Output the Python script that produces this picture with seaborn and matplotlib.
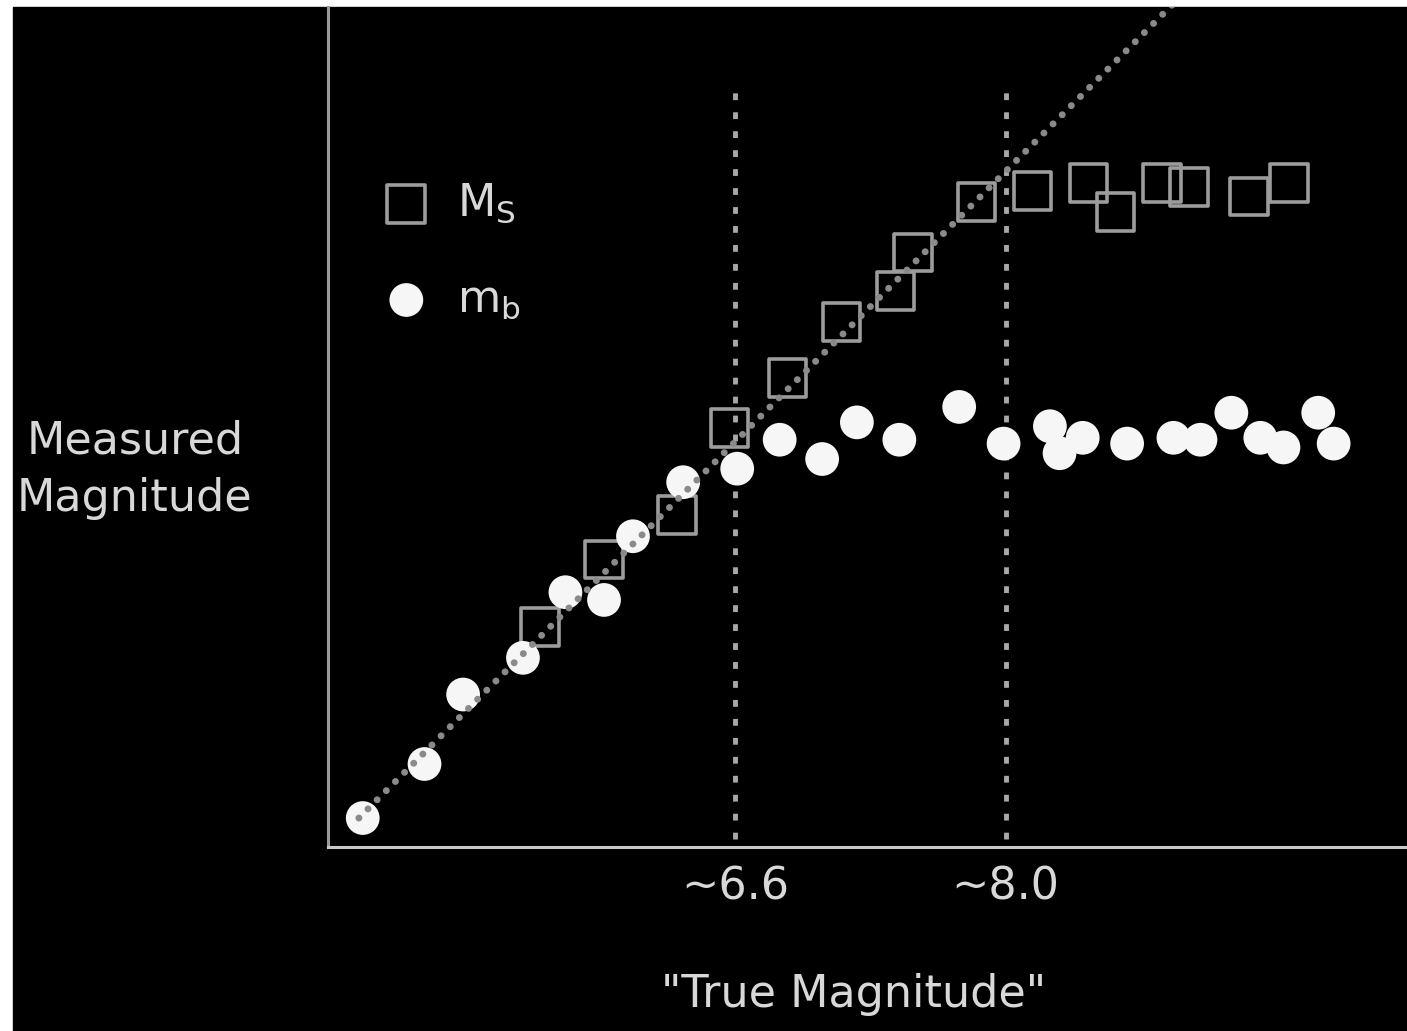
import pandas as pd
import seaborn as sns
import matplotlib.pyplot as plt
from matplotlib.patches import Rectangle

#values ("true" vs measured magnitude)
ms_true = [5.59, 5.92, 6.30, 6.57, 6.87, 7.15, 7.43, 7.52, 7.85, 8.14, 8.43, 8.57, 8.81, 8.95, 9.26, 9.47]
ms_meas = [5.64, 5.99, 6.22, 6.67, 6.93, 7.22, 7.38, 7.58, 7.84, 7.90, 7.94, 7.79, 7.94, 7.92, 7.87, 7.94]

mb_true = [4.67, 4.99, 5.19, 5.50, 5.72, 5.92, 6.07, 6.33, 6.61, 6.83, 7.05, 7.23, 7.45,
           7.76, 7.99, 8.23, 8.28, 8.40, 8.63, 8.87, 9.01, 9.17, 9.32, 9.44, 9.62, 9.70]
mb_meas = [4.65, 4.93, 5.29, 5.48, 5.82, 5.78, 6.11, 6.39, 6.46, 6.61, 6.51, 6.70, 6.61,
           6.78, 6.59, 6.68, 6.54, 6.62, 6.59, 6.62, 6.61, 6.75, 6.62, 6.57, 6.75, 6.59]

saturation = [6.6, 8.0]
saturation_labels = ['~6.6', '~8.0']
saturation_top = [8.46, 8.41]
one_to_one = [4.65, 9.0]

ms = pd.DataFrame({'true': ms_true, 'measured': ms_meas})
mb = pd.DataFrame({'true': mb_true, 'measured': mb_meas})

plt.rcParams['font.family'] = ['DejaVu Sans']
txt = '#d8d8d8'

fig = plt.figure(figsize=(14.07, 10.31), dpi=100)
fig.patch.set_facecolor('white')
fig.add_artist(Rectangle((13 / 1407, 0), 1, 1024 / 1031, transform=fig.transFigure,
                         color='black', zorder=-1))
ax = fig.add_axes([328 / 1407, 184 / 1031, 1079 / 1407, 840 / 1031])
ax.set_facecolor('black')

#the two magnitude scales
sns.scatterplot(data=ms, x='true', y='measured', ax=ax, marker='s', s=740,
                facecolor='none', edgecolor='#9c9c9c', linewidth=2.6,
                label='M$_\\mathregular{S}$', zorder=3)
sns.scatterplot(data=mb, x='true', y='measured', ax=ax, marker='o', s=590,
                color='#f6f6f6', edgecolor='none', linewidth=0,
                label='m$_\\mathregular{b}$', zorder=3)

#1:1 line and saturation levels
sns.lineplot(x=one_to_one, y=one_to_one, ax=ax, color='#8a8a8a', lw=5,
             linestyle=(0, (0.01, 1.85)), dash_capstyle='round', zorder=4)
ax.vlines(saturation, 4.54, saturation_top, colors='#a8a8a8', lw=3.5,
          linestyles=[(0, (1.4, 2.5))], zorder=2)

ax.set_xlim(4.49, 10.08)
ax.set_ylim(4.5, 8.852)
ax.set_xticks(saturation, saturation_labels)
ax.set_yticks([])
ax.tick_params(axis='x', length=0, pad=13, labelsize=32, labelcolor=txt)
for lbl in ax.get_xticklabels():
    lbl.set_x(lbl.get_position()[0])
    lbl.set_ha('center')

for side in ['top', 'right']:
    ax.spines[side].set_visible(False)
ax.spines['left'].set_color('#9a9a9a')
ax.spines['left'].set_linewidth(2.2)
ax.spines['bottom'].set_color('#c8c8c8')
ax.spines['bottom'].set_linewidth(2.2)

ax.set_xlabel('"True Magnitude"', fontsize=32, color=txt)
ax.xaxis.label.set_va('center')
ax.xaxis.set_label_coords(0.4875, -0.176)
ax.set_ylabel('Measured\nMagnitude', rotation=0, fontsize=32, color=txt,
              ha='center', va='center', linespacing=1.45)
ax.yaxis.set_label_coords(-0.179, 0.449)

handles, labels = ax.get_legend_handles_labels()
ax.legend(handles, labels, loc='upper left', bbox_to_anchor=(0.052, 0.792),
          frameon=False, fontsize=32, handlelength=1.0, handletextpad=0.63,
          labelspacing=1.18, borderpad=0, borderaxespad=0, labelcolor=txt)

fig.savefig('out.png', dpi=100, facecolor=fig.get_facecolor())
